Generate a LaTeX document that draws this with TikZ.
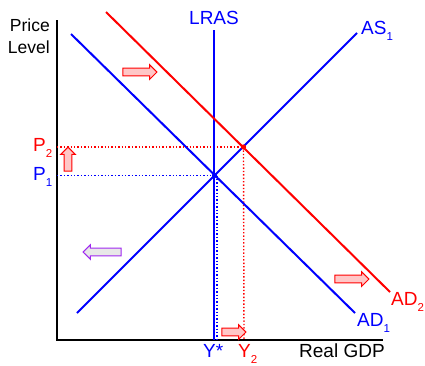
\documentclass[tikz,border=0pt]{standalone}
\usepackage{fontspec}
\setmainfont{Liberation Sans}
\usetikzlibrary{shapes.arrows}
\definecolor{lineblue}{RGB}{0,0,255}
\definecolor{linered}{RGB}{255,0,0}
\definecolor{shiftpurple}{RGB}{160,40,240}
\newcommand{\lowidx}[1]{\raisebox{-0.36em}{\fontsize{11.5}{12}\selectfont #1}}
\begin{document}
\begin{tikzpicture}[x=1pt, y=-1pt, font=\fontsize{19}{22}\selectfont]
        \tikzset{axis/.style={draw, line width=2pt},
                 curve/.style={line width=2pt},
                 guide/.style={line width=1.4pt, dash pattern=on 1.4pt off 2pt},
                 lbl/.style={anchor=base west, inner sep=0pt},
                 shiftarrow/.style={single arrow, draw=linered, fill=linered!22, line width=1pt, inner xsep=0pt,
                   inner ysep=3.4pt, single arrow head extend=3.4pt, single arrow head indent=0pt}}
        \useasboundingbox (0,0) rectangle (425,365);
        % axes
        \coordinate (origin) at (57,340);
        \coordinate (ytop) at (57,20);
        \coordinate (xend) at (383,340);
        \draw[axis] (ytop) -- (origin) -- (xend);
        \node[anchor=base east, inner sep=0pt, font=\fontsize{17.5}{22}\selectfont] (ylabel) at (50,31) {Price};
        \node[anchor=base east, inner sep=0pt, font=\fontsize{17.5}{22}\selectfont] (ylabel2) at (50,53) {Level};
        \node[lbl] (xlabel) at (299,357) {Real GDP};
        % curve end points
        \coordinate (lrastop) at (213.5,30);
        \coordinate (lrasbot) at (213.5,340);
        \coordinate (as1low) at (77,313);
        \coordinate (as1high) at (357,33);
        \coordinate (ad1high) at (71,34);
        \coordinate (ad1low) at (355,313);
        \coordinate (ad2high) at (106,12);
        \coordinate (ad2low) at (390,292);
        \coordinate (eq1) at (214.5,175.5);
        \coordinate (eq2) at (243.5,147);
        % guides
        \coordinate (p1) at (57,175.5);
        \coordinate (p2) at (57,147);
        \coordinate (ystar) at (216.8,340);
        \coordinate (y2) at (244,340);
        \draw[guide, lineblue] (p1) -- (eq1);
        \draw[guide, lineblue] (eq1 -| ystar) -- (ystar);
        \draw[guide, linered] (p2) -- (eq2);
        \draw[guide, linered] (eq2) -- (y2);
        % curves
        \draw[curve, lineblue] (lrastop) -- (lrasbot);
        \draw[curve, lineblue] (as1low) -- (as1high);
        \draw[curve, lineblue] (ad1high) -- (ad1low);
        \draw[curve, linered] (ad2high) -- (ad2low);
        \fill[lineblue] (eq1) circle (2.6);
        \fill[linered] (eq2) circle (2.6);
        % labels
        \node[anchor=base, inner sep=0pt, text=lineblue] (lras) at (214,24) {LRAS};
        \node[lbl, text=lineblue] (as1) at (361,34) {AS\lowidx{1}};
        \node[lbl, text=lineblue] (ad1) at (357,326) {AD\lowidx{1}};
        \node[lbl, text=linered] (ad2) at (391,305) {AD\lowidx{2}};
        \node[lbl, text=linered] (p2lbl) at (33,151) {P\lowidx{2}};
        \node[lbl, text=lineblue] (p1lbl) at (33,180) {P\lowidx{1}};
        \node[lbl, text=lineblue] (ystarlbl) at (203,357) {Y*};
        \node[lbl, text=linered] (y2lbl) at (238,357) {Y\lowidx{2}};
        % shift arrows
        \node[shiftarrow, minimum height=24pt, rotate=90] (priceup) at (68,161) {};
        \node[shiftarrow, minimum height=34pt] (adshift) at (138,72) {};
        \node[shiftarrow, minimum height=34pt] (adshiftlow) at (350,279) {};
        \node[shiftarrow, minimum height=24pt] (outputup) at (232,332) {};
        \node[shiftarrow, draw=shiftpurple, fill=gray!18, minimum height=38pt, rotate=180] (asshift) at (104,252) {};
    \end{tikzpicture}
\end{document}
